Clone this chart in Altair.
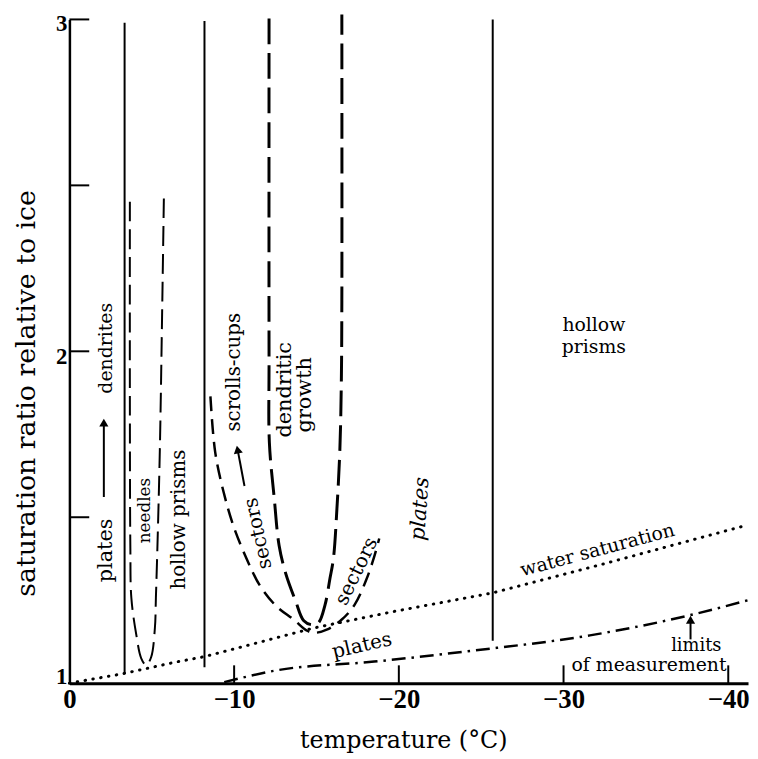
import altair as alt
import pandas as pd

# ---------------- data ----------------
temp_labels = [0, -10, -20, -30, -40]
temp_ticks = [-10, -20, -30, -40]
sat_labels = ["1", "2", "3"]
sat_label_pos = [1.017, 1.982, 2.985]
sat_ticks = [1.5, 2.0, 2.5, 3.0]

# solid habit boundaries
bound_T = [-3.35, -8.2, -25.7]
bound_S_low = [1.03, 1.048, 1.128]
bound_S_high = [2.99, 2.995, 3.0]

# needles (dashed U)
needles_T = [-3.67, -3.67, -3.70, -3.76, -4.06, -4.36, -4.66, -4.96, -5.19, -5.25, -5.34, -5.49, -5.64, -5.74]
needles_S = [2.451, 1.854, 1.406, 1.257, 1.146, 1.075, 1.054, 1.078, 1.167, 1.257, 1.406, 1.704, 2.152, 2.481]

# dendritic growth (dashed U)
dendritic_T = [-12.12, -12.12, -12.14, -12.44, -12.73, -13.13, -13.73, -14.23, -14.73, -15.12, -15.52, -15.82,
               -16.03, -16.24, -16.42, -16.51, -16.54, -16.54]
dendritic_S = [3.003, 1.973, 1.725, 1.555, 1.415, 1.331, 1.248, 1.188, 1.176, 1.182, 1.236, 1.316,
               1.376, 1.525, 1.704, 1.913, 2.152, 3.015]

# sectors / scrolls (dashed U)
sectors_T = [-8.56, -8.85, -9.36, -9.95, -10.75, -11.54, -12.54, -13.63, -14.43, -14.93, -15.62, -16.52,
             -17.31, -18.01, -18.51, -18.81]
sectors_S = [1.864, 1.696, 1.576, 1.475, 1.376, 1.296, 1.233, 1.191, 1.158, 1.152, 1.161, 1.191,
             1.236, 1.310, 1.382, 1.436]

# water saturation (dotted)
water_T = [0, -3.2, -6.4, -8.2, -14.9, -19.7, -25.7, -32.4, -41.2]
water_S = [1.0, 1.028, 1.063, 1.08, 1.167, 1.216, 1.272, 1.359, 1.477]

# limits of measurement (dash-dot)
limit_T = [-9.4, -12.5, -18.5, -24.5, -31.6, -37.6, -41.2]
limit_S = [1.003, 1.038, 1.065, 1.098, 1.144, 1.204, 1.25]

# arrows
arrow_T1 = [-2.09, -10.63, -37.71]
arrow_S1 = [1.561, 1.594, 1.132]
arrow_T2 = [-2.09, -10.21, -37.71]
arrow_S2 = [1.785, 1.704, 1.191]
arrow_angle = [0, 349, 0]

# annotations
label_text = ["plates", "dendrites", "needles", "hollow prisms", "scrolls-cups", "sectors",
              "dendritic", "growth", "sectors", "hollow", "prisms", "water saturation",
              "plates", "limits", "of measurement"]
label_T = [-2.25, -2.25, -4.6, -6.67, -10.0, -11.46, -13.07, -14.33, -17.43, -31.84, -31.84, -32.06,
           -17.76, -38.06, -35.19]
label_S = [1.40, 2.009, 1.52, 1.493, 1.937, 1.451, 1.884, 1.869, 1.337, 2.078, 2.012, 1.401,
           1.113, 1.113, 1.054]
label_angle = [270, 270, 270, 270, 270, 258, 270, 270, 296, 0, 0, 345, 347, 0, 0]
label_size = [21, 19, 17, 20, 20, 20, 21, 21, 20, 19, 19, 19, 20, 18, 19]

italic_text = ["plates"]
italic_T = [-21.31]
italic_S = [1.525]
italic_angle = [274]

# ---------------- chart ----------------
W, H = 685, 670
SERIF = "DejaVu Serif"
NUMF = "Liberation Serif"

xscale = alt.Scale(domain=[0, -41.2], nice=False, zero=False)
yscale = alt.Scale(domain=[1, 3], nice=False, zero=False)

xaxis = alt.Axis(values=temp_labels, format="d", ticks=False, grid=False, domainWidth=3, domainColor="black",
                 labelFont=NUMF, labelFontSize=27, labelFontWeight="bold", labelColor="black",
                 labelPadding=4, labelFlush=False, labelOverlap=False,
                 title="temperature (°C)", titleFont=SERIF, titleFontSize=24, titleFontWeight="normal",
                 titleColor="black", titleX=337, titleY=58, titleBaseline="middle", titleAlign="center")
yaxis = alt.Axis(values=[1, 2, 3], labels=False, ticks=False, grid=False, domainWidth=2.5, domainColor="black",
                 title="saturation ratio relative to ice", titleFont=SERIF, titleFontSize=27,
                 titleFontWeight="normal", titleColor="black", titleX=-43, titleY=377, titleAngle=270,
                 titleBaseline="middle", titleAlign="center")


def X(field="T"):
    return alt.X(f"{field}:Q", scale=xscale, axis=xaxis)


def Y(field="S"):
    return alt.Y(f"{field}:Q", scale=yscale, axis=yaxis)


def curve(T, S, dash, width, cap="butt"):
    df = pd.DataFrame({"T": T, "S": S, "i": list(range(len(T)))})
    return alt.Chart(df).mark_line(color="black", strokeDash=dash, strokeWidth=width, strokeCap=cap,
                                   interpolate="catmull-rom").encode(x=X(), y=Y(), order="i:Q")


# axis tick marks (inward)
xt = alt.Chart(pd.DataFrame({"T": temp_ticks})).mark_rule(color="black", strokeWidth=2).encode(
    x=X(), y=alt.value(H), y2=alt.value(H - 18))
yt = alt.Chart(pd.DataFrame({"S": sat_ticks})).mark_rule(color="black", strokeWidth=2).encode(
    y=Y(), x=alt.value(0), x2=alt.value(20))
ylab = alt.Chart(pd.DataFrame({"S": sat_label_pos, "txt": sat_labels})).mark_text(
    font=NUMF, fontSize=23, fontWeight="bold", color="black", align="right", baseline="middle").encode(
    y=Y(), x=alt.value(-2), text="txt:N")

bounds = alt.Chart(pd.DataFrame({"T": bound_T, "S": bound_S_low, "S2": bound_S_high})).mark_rule(
    color="black", strokeWidth=2).encode(x=X(), y=Y(), y2="S2:Q")

needles = curve(needles_T, needles_S, [20, 8], 2)
dendritic = curve(dendritic_T, dendritic_S, [26, 9], 3)
sectors = curve(sectors_T, sectors_S, [15, 8], 2.5)
water = alt.Chart(pd.DataFrame({"T": water_T, "S": water_S})).mark_line(
    color="black", strokeDash=[0.5, 7.5], strokeWidth=3, strokeCap="round").encode(x=X(), y=Y())
limits = alt.Chart(pd.DataFrame({"T": limit_T, "S": limit_S, "i": list(range(len(limit_T)))})).mark_line(
    color="black", strokeDash=[14, 6, 2.5, 6], strokeWidth=2.5, interpolate="monotone").encode(
    x=X(), y=Y(), order="i:Q")

arrows_df = pd.DataFrame({"T": arrow_T1, "S": arrow_S1, "T2": arrow_T2, "S2": arrow_S2, "ang": arrow_angle})
arrow_shafts = alt.Chart(arrows_df).mark_rule(color="black", strokeWidth=2).encode(
    x=X(), y=Y(), x2="T2:Q", y2="S2:Q")
heads_df = pd.DataFrame({"T": arrow_T2, "S": arrow_S2, "ang": arrow_angle})
arrow_heads = alt.Chart(heads_df).mark_point(shape="triangle-up", filled=True, size=85, color="black",
                                              opacity=1).encode(
    x=X(), y=Y(), angle=alt.Angle("ang:Q", scale=None))

labels_df = pd.DataFrame({"T": label_T, "S": label_S, "txt": label_text, "ang": label_angle, "sz": label_size})
labels = alt.Chart(labels_df).mark_text(font=SERIF, color="black", align="center", baseline="middle").encode(
    x=X(), y=Y(), text="txt:N", angle=alt.Angle("ang:Q", scale=None), size=alt.Size("sz:Q", scale=None))

ital_df = pd.DataFrame({"T": italic_T, "S": italic_S, "txt": italic_text, "ang": italic_angle})
ital = alt.Chart(ital_df).mark_text(font=SERIF, fontStyle="italic", fontSize=21, color="black",
                                    align="center", baseline="middle").encode(
    x=X(), y=Y(), text="txt:N", angle=alt.Angle("ang:Q", scale=None))

chart = alt.layer(xt, yt, ylab, bounds, needles, dendritic, sectors, water, limits, arrow_shafts, arrow_heads,
                  labels, ital).properties(
    width=W, height=H,
    autosize=alt.AutoSizeParams(type="none"),
    padding={"left": 62, "top": 8, "right": 2, "bottom": 72},
    background="white",
).configure_view(stroke=None)

chart.save("out.html", embed_options={"renderer": "svg", "actions": False})
